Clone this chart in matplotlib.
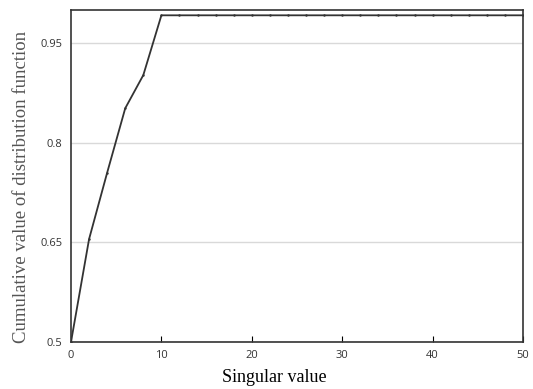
import matplotlib.pyplot as plt

# singular value index and cumulative value of distribution function
x = [0, 2, 4, 6, 8, 10, 12, 14, 16, 18, 20, 22, 24, 26, 28, 30, 32, 34, 36, 38,
     40, 42, 44, 46, 48, 50]
y = [0.5, 0.655, 0.755, 0.852, 0.902, 0.992, 0.992, 0.992, 0.992, 0.992, 0.992,
     0.992, 0.992, 0.992, 0.992, 0.992, 0.992, 0.992, 0.992, 0.992, 0.992, 0.992,
     0.992, 0.992, 0.992, 0.992]
xticks = [0, 10, 20, 30, 40, 50]
yticks = [0.5, 0.65, 0.8, 0.95]

fig = plt.figure(figsize=(5.33, 3.89), dpi=100)
ax = fig.add_axes([71 / 533, 1 - 342 / 389, 452 / 533, 332 / 389])

ax.plot(x, y, color='#333333', lw=1.3, marker='.', markersize=1.5)
ax.set_xlim(0, 50)
ax.set_ylim(0.5, 1.0)
ax.set_xticks(xticks)
ax.set_yticks(yticks)
ax.set_yticklabels(['0.5', '0.65', '0.8', '0.95'])
ax.tick_params(axis='x', direction='in', length=4, labelsize=8, pad=6)
ax.tick_params(axis='y', length=0, labelsize=8, pad=6)
for lab in ax.get_xticklabels() + ax.get_yticklabels():
    lab.set_fontfamily('Open Sans')
    lab.set_color('#333333')
ax.grid(axis='y', color='#d9d9d9', lw=1)
ax.set_axisbelow(True)
for s in ax.spines.values():
    s.set_color('#333333')
    s.set_linewidth(1.2)

fig.text(274 / 533, 1 - 377 / 389, 'Singular value', ha='center', va='center',
         family='Liberation Serif', fontsize=13)
fig.text(22 / 533, 1 - 187 / 389, 'Cumulative value of distribution function',
         ha='center', va='center', rotation=90, family='Liberation Serif',
         fontsize=13.5, color='#555555')

fig.savefig('out.png')
